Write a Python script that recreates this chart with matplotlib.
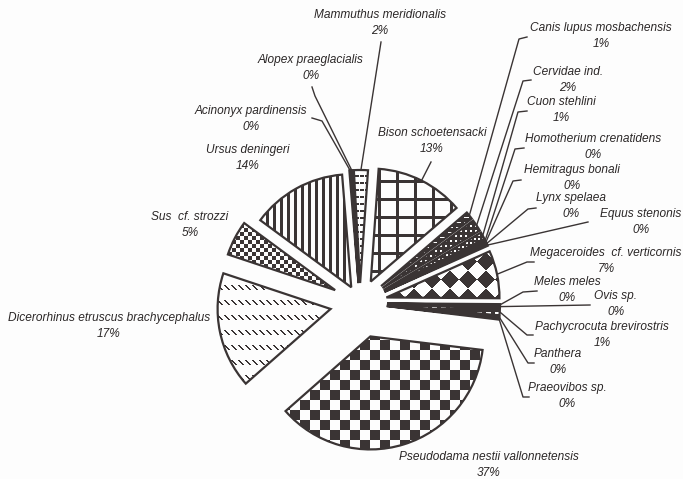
import numpy as np
import matplotlib.pyplot as plt

W, H = 683, 479
ink = '#3a3434'
paper = '#fdfdfd'

# slices, clockwise from 12 o'clock
species = ['Bison schoetensacki', 'Canis lupus mosbachensis', 'Cervidae ind.', 'Cuon stehlini',
           'Homotherium crenatidens', 'Hemitragus bonali', 'Lynx spelaea', 'Equus stenonis',
           'Megaceroides  cf. verticornis', 'Meles meles', 'Ovis sp.', 'Pachycrocuta brevirostris',
           'Panthera', 'Praeovibos sp.', 'Pseudodama nestii vallonnetensis',
           'Dicerorhinus etruscus brachycephalus', 'Sus  cf. strozzi', 'Ursus deningeri',
           'Acinonyx pardinensis', 'Alopex praeglacialis', 'Mammuthus meridionalis']
share = [12.6, 1.1, 1.7, 1.0,
         0.2, 0.2, 0.2, 0.2,
         6.8, 0.2, 0.2, 1.0,
         0.2, 0.2, 36.6,
         16.6, 5.0, 13.6,
         0.2, 0.2, 2.0]

# layout (pixels): how far each slice is pulled out
pull = [24, 27, 27, 27,
        27, 27, 27, 27,
        27, 27, 27, 27,
        27, 27, 35,
        30, 28, 18,
        20, 20, 20]

# label layout in image pixels (x right, y down)
label_pos = [(432, 141), (601, 36), (568, 80), (561, 110),
             (593, 147), (572, 178), (571, 206), (641, 222),
             (606, 261), (567, 290), (616, 304), (602, 335),
             (558, 362), (567, 396), (489, 465),
             (109, 326), (190, 225), (248, 158),
             (251, 119), (311, 68), (380, 23)]
lead_elbow = [(431, 162), (519, 39), (523, 81), (518, 112),
              (515, 149), (513, 181), (528, 209), (588, 222),
              (527, 262), (523, 292), (590, 305), (527, 335),
              (528, 363), (523, 397), None,
              None, None, None,
              (322, 121), (315, 96), (381, 42)]
lead_tip = [None, (527, 37), (531, 80), (527, 111),
            (524, 148), (521, 180), (536, 208), None,
            (534, 262), (537, 291), None, (533, 335),
            (534, 363), (529, 397), None,
            None, None, None,
            (312, 118), (312, 87), None]

pie_center = (360, 303)
pie_radius = 113

Y, X = np.mgrid[0:H, 0:W]


def fill_pattern(i):
    if i == 0:
        return (X % 18 < 2.5) | (Y % 18 < 2.5)
    if i == 1:
        return ~((X % 8 < 5) & (Y % 5 == 2))
    if i == 2:
        return ~((X % 5 < 2) & (Y % 5 < 2))
    if i == 3:
        return (X % 4 < 2) | (Y % 4 < 2)
    if i == 8:
        p = 18.0
        u = np.floor((X + Y) / p)
        v = np.floor((X - Y) / p)
        return (u + v) % 2 == 1
    if i == 11:
        return ~((X % 9 < 5) & (Y % 6 < 2))
    if i == 14:
        return (X // 10 + Y // 10) % 2 == 0
    if i == 15:
        r = Y % 15
        return (r < 5) & ((X - r) % 7 < 2)
    if i == 16:
        return (X // 4 + Y // 4) % 2 == 0
    if i == 17:
        return X % 7 < 3
    if i == 20:
        return (Y % 7 < 2) & (X % 5 < 4)
    return np.ones_like(X, dtype=bool)


def to_rgba(mask):
    img = np.empty((H, W, 4))
    ic = np.array([0x3a, 0x34, 0x34]) / 255
    pc = np.array([0xfd, 0xfd, 0xfd]) / 255
    img[..., :3] = np.where(mask[..., None], ic, pc)
    img[..., 3] = 1.0
    return img


fig = plt.figure(figsize=(W / 100, H / 100), dpi=100, facecolor=paper)
ax = fig.add_axes([0, 0, 1, 1])
ax.set_facecolor(paper)

# y axis runs downward, so data angle -86 is just right of 12 o'clock on screen
wedges, _ = ax.pie(share, center=pie_center, radius=pie_radius, explode=pull,
                   startangle=-86, counterclock=True,
                   wedgeprops=dict(facecolor='none', edgecolor=ink, linewidth=1.6, zorder=3))

for i, w in enumerate(wedges):
    im = ax.imshow(to_rgba(fill_pattern(i)), extent=(0, W, H, 0), origin='upper',
                   interpolation='nearest', zorder=2)
    im.set_clip_path(w)

total = sum(share)
for i, w in enumerate(wedges):
    pct = share[i] / total * 100
    tx, ty = label_pos[i]
    ax.text(tx, ty, f"{species[i]}\n{pct:.0f}%", ha='center', va='center',
            multialignment='center', fontsize=8.6, style='italic', color='#2b2727',
            family=['Liberation Sans', 'DejaVu Sans'], linespacing=1.45, zorder=4)
    if lead_elbow[i] is None:
        continue
    th = np.radians((w.theta1 + w.theta2) / 2)
    cx, cy = w.center
    sx, sy = cx + w.r * np.cos(th), cy + w.r * np.sin(th)
    xs = [sx, lead_elbow[i][0]]
    ys = [sy, lead_elbow[i][1]]
    if lead_tip[i] is not None:
        xs.append(lead_tip[i][0])
        ys.append(lead_tip[i][1])
    ax.plot(xs, ys, color=ink, linewidth=1.0, zorder=4)

ax.set_xlim(0, W)
ax.set_ylim(H, 0)
ax.set_aspect('auto')
ax.axis('off')

fig.savefig('out.png', dpi=100, facecolor=paper)
